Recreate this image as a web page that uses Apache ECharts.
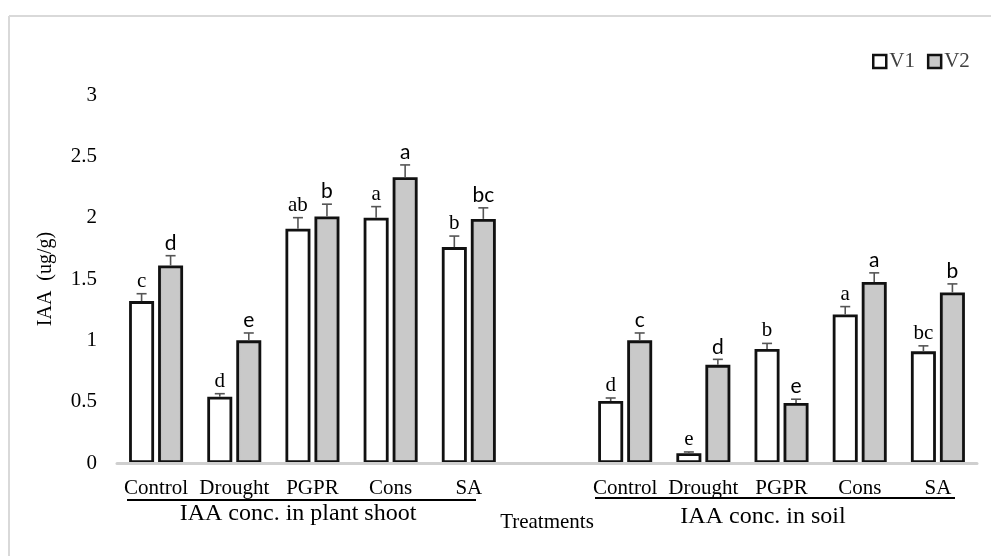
<!DOCTYPE html>
<html>
<head>
<meta charset="utf-8">
<script src="https://cdn.jsdelivr.net/npm/echarts@6/dist/echarts.min.js"></script>
<style>
html,body{margin:0;padding:0;background:#fff;}
#chart{width:991px;height:556px;}
</style>
</head>
<body>
<div id="chart"></div>
<script>
// ---- data ----
const categories = ['Control','Drought','PGPR','Cons','SA','','Control','Drought','PGPR','Cons','SA'];
const v1Values = [1.32,0.54,1.91,2.00,1.76,null,0.505,0.08,0.93,1.21,0.91];
const v2Values = [1.61,1.00,2.01,2.33,1.99,null,1.00,0.80,0.49,1.475,1.39];
const v1Err = [0.06,0.025,0.09,0.09,0.09,null,0.025,0.01,0.045,0.065,0.045];
const v2Err = [0.08,0.06,0.10,0.10,0.09,null,0.06,0.045,0.03,0.075,0.07];
const v1Letters = ['c','d','ab','a','b','','d','e','b','a','bc'];
const v2Letters = ['d','e','b','a','bc','','c','d','e','a','b'];
const yTicks = [0,0.5,1,1.5,2,2.5,3];

const SERIF = "'Liberation Serif','Times New Roman',serif";
const SANS = "Lato,'Open Sans',sans-serif";
const BAR_W = 25;
const GAP_PX = 4;

const chart = echarts.init(document.getElementById('chart'), null, {renderer:'canvas'});

const grayFill = new echarts.graphic.LinearGradient(0,0,1,0,[
  {offset:0,color:'#b3b3b3'},{offset:0.18,color:'#c9c9c9'},
  {offset:0.82,color:'#c9c9c9'},{offset:1,color:'#b3b3b3'}
]);

function errData(vals, errs, letters){
  const out = [];
  vals.forEach((v,i)=>{ if(v!=null) out.push([i, v, errs[i], letters[i]]); });
  return out;
}

function makeErrRender(sign, font, size){
  return function(params, api){
    const i = api.value(0), v = api.value(1), e = api.value(2);
    const letter = errorLetters[params.seriesName][params.dataIndex];
    const base = api.coord([i, v]);
    const top = api.coord([i, v + e]);
    const cx = base[0] + sign * (BAR_W + GAP_PX) / 2;
    const capHalf = 5;
    return {
      type:'group',
      children:[
        {type:'line', shape:{x1:cx,y1:base[1],x2:cx,y2:top[1]}, style:{stroke:'#555',lineWidth:1.6}},
        {type:'line', shape:{x1:cx-capHalf,y1:top[1],x2:cx+capHalf,y2:top[1]}, style:{stroke:'#555',lineWidth:1.6}},
        {type:'text', style:{text:letter, x:cx, y:top[1]-2, textAlign:'center', textVerticalAlign:'bottom',
          fontSize:size, fontFamily:font, fill:'#000'}}
      ]
    };
  };
}
const e1 = errData(v1Values, v1Err, v1Letters);
const e2 = errData(v2Values, v2Err, v2Letters);
const errorLetters = { 'errV1': e1.map(d=>d[3]), 'errV2': e2.map(d=>d[3]) };

const option = {
  animation:false,
  backgroundColor:'#fff',
  grid:{left:117, right:14, top:95, bottom:93, containLabel:false},
  legend:{
    data:['V1','V2'], left:867, top:46, icon:'rect', itemWidth:13, itemHeight:13, itemGap:12,
    textStyle:{fontFamily:SERIF, fontSize:21, color:'#404040', padding:[0,0,0,-2]},
    itemStyle:{borderWidth:2.5, borderColor:'#111'}
  },
  xAxis:{
    type:'category', data:categories,
    axisLine:{show:true, lineStyle:{color:'#cfcfcf', width:3}},
    axisTick:{show:false},
    axisLabel:{interval:0, margin:15, fontFamily:SERIF, fontSize:21, color:'#000'},
    splitLine:{show:false}, z:3
  },
  yAxis:{
    type:'value', min:0, max:3, interval:0.5,
    name:'IAA  (ug/g)', nameLocation:'middle', nameRotate:90, nameGap:61,
    nameTextStyle:{fontFamily:SERIF, fontSize:20, color:'#000'},
    axisLine:{show:false}, axisTick:{show:false}, splitLine:{show:false},
    axisLabel:{margin:20, fontFamily:SERIF, fontSize:21, color:'#000',
      formatter:(v)=> yTicks.includes(v) ? String(v) : ''}
  },
  series:[
    {name:'V1', type:'bar', data:v1Values, barWidth:BAR_W, barGap:(GAP_PX/BAR_W*100)+'%',
      itemStyle:{color:'#fff', borderColor:'#111', borderWidth:2.8}},
    {name:'V2', type:'bar', data:v2Values, barWidth:BAR_W, barGap:(GAP_PX/BAR_W*100)+'%',
      itemStyle:{color:grayFill, borderColor:'#111', borderWidth:2.8}},
    {name:'errV1', type:'custom', data:e1, renderItem:makeErrRender(-1, SERIF, 21), z:5, silent:true},
    {name:'errV2', type:'custom', data:e2, renderItem:makeErrRender(1, SANS, 21), z:5, silent:true}
  ],
  graphic:[
    {type:'line', shape:{x1:9,y1:16,x2:991,y2:16}, style:{stroke:'#d9d9d9', lineWidth:2}},
    {type:'line', shape:{x1:9,y1:16,x2:9,y2:556}, style:{stroke:'#d9d9d9', lineWidth:2}},
    {type:'line', shape:{x1:127,y1:500,x2:476,y2:500}, style:{stroke:'#000', lineWidth:2}},
    {type:'line', shape:{x1:595,y1:498,x2:955,y2:498}, style:{stroke:'#000', lineWidth:2}},
    {type:'text', style:{text:'IAA conc. in plant shoot', x:298, y:514, textAlign:'center', textVerticalAlign:'middle',
      fontFamily:SERIF, fontSize:24, fill:'#000'}},
    {type:'text', style:{text:'IAA conc. in soil', x:763, y:517, textAlign:'center', textVerticalAlign:'middle',
      fontFamily:SERIF, fontSize:24, fill:'#000'}},
    {type:'text', style:{text:'Treatments', x:547, y:522, textAlign:'center', textVerticalAlign:'middle',
      fontFamily:SERIF, fontSize:21, fill:'#000'}}
  ]
};
chart.setOption(option);
</script>
</body>
</html>
